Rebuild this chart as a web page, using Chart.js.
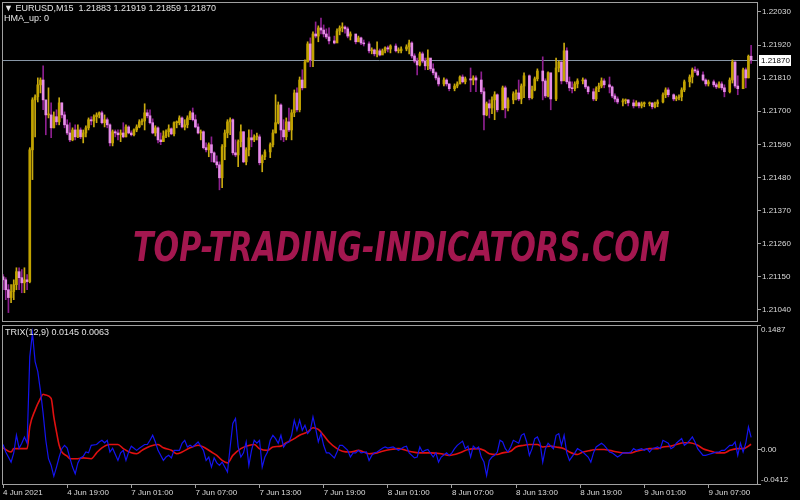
<!DOCTYPE html>
<html lang="en">
<head>
<meta charset="UTF-8">
<title>EURUSD,M15 TRIX</title>
<script src="https://cdn.jsdelivr.net/npm/chart.js"></script>
<style>
  body { margin: 0; background: #000; width: 800px; height: 500px; overflow: hidden; position: relative;
         font-family: "Liberation Sans", Arial, sans-serif; }
  canvas { position: absolute; left: 0; }
  #main { top: 0; }
  #trix { top: 323px; }
  .lbl { position: absolute; color: #e4e4e4; font-size: 9px; line-height: 10px; white-space: pre; z-index: 2; }
  #mark { position: absolute; left: 133px; top: 227px; font-family: "DejaVu Sans", sans-serif; font-weight: bold;
          font-style: italic; font-size: 41px; line-height: 41px; color: #a3174f; white-space: nowrap;
          transform-origin: 0 0; z-index: 2; }
</style>
</head>
<body>
<canvas id="main" width="800" height="322"></canvas>
<canvas id="trix" width="800" height="177"></canvas>
<div class="lbl" id="head1" style="left:4px; top:3px;"></div>
<div class="lbl" style="left:4px; top:13px;">HMA_up: 0</div>
<div class="lbl" id="head2" style="left:5px; top:327px;"></div>
<div id="mark">TOP-TRADING-INDICATORS.COM</div>

<script>
// prices are kept in points (0.00001) above 1.21000
const BASE = 1.21;
const firstOpen = 150;

const priceTicks = [1.21040, 1.21150, 1.21260, 1.21370, 1.21480, 1.21590, 1.21700, 1.21810, 1.21920, 1.22030];
const timeTicks = [0, 24, 48, 72, 96, 120, 144, 168, 192, 216, 240, 264];
const timeLabels = ['4 Jun 2021', '4 Jun 19:00', '7 Jun 01:00', '7 Jun 07:00', '7 Jun 13:00', '7 Jun 19:00',
                    '8 Jun 01:00', '8 Jun 07:00', '8 Jun 13:00', '8 Jun 19:00', '9 Jun 01:00', '9 Jun 07:00'];
const trixTicks = [0.1487, 0, -0.0412];
const trixTickLabels = ['0.1487', '0.00', '-0.0412'];

// bar number (M15 bars from 4 Jun 13:00)
const barTime = [
  0,1,2,3,4,5,6,7,8,9, 10,11,12,13,14,15,16,17,18,19, 20,21,22,23,24,25,26,27,28,29,
  30,31,32,33,34,35,36,37,38,39, 40,41,42,43,44,45,46,47,48,49, 50,51,52,53,54,55,56,57,58,59,
  60,61,62,63,64,65,66,67,68,69, 70,71,72,73,74,75,76,77,78,79, 80,81,82,83,84,85,86,87,88,89,
  90,91,92,93,94,95,
  96,97,98,100,101,102,103,104,105,106, 107,108,109,110,111,112,113,114,115,116,
  117,118,119,120,121,122,124,125,126,127, 128,129,130,132,133,134,135,137,138,139,
  140,141,142,143,144,145,147,148,149,151, 152,153,154,155,156,157,158,159,160,161,
  162,163,165,166,167,169,170,171,172,173, 175,176,177,179,180,181,182,183,184,185,
  187,188,189,191,192,193,194,195,197,198, 199,200,202,203,204,205,207,208,209,210,
  211,212,213,214,215,217,218,219,221,222, 223,224,225,227,228,229,230,232,233,234,
  236,237,238,239,240,242,243,244,245,247, 248,249,251,252,253,254,255,257,258,259,
  260,262,263,264,266,267,268,269,270,272, 273,274,275,277,278,279,280
];
const close = [
  140,107,81,101,124,167,147,130,140,134, 572,738,748,788,804,738,688,688,645,682,
  665,728,688,655,628,605,638,615,638,615, 628,645,672,668,682,688,695,662,672,655,
  595,632,628,622,628,615,648,628,622,638, 648,665,668,695,685,662,628,645,605,599,
  618,632,642,625,662,662,678,648,655,678, 695,672,648,628,632,579,572,589,562,532,
  522,479,582,628,665,672,562,555,599,632, 532,572,612,605,615,615,
  529,549,565,589,628,662,721,638,615,665, 638,695,761,705,804,778,864,924,871,957,
  950,977,970,957,947,934,927,967,977,980, 974,950,957,931,944,927,924,901,904,891,
  901,887,901,911,907,917,901,901,907,914, 927,884,867,854,891,867,851,877,841,828,
  811,791,804,791,775,784,791,814,798,808, 804,811,804,765,688,725,711,738,755,705,
  778,711,738,758,761,741,784,818,745,771, 808,834,801,751,828,741,844,864,801,901,
  798,778,775,791,801,804,781,765,741,775, 784,801,788,781,751,741,731,735,738,728,
  718,728,718,725,725,728,715,725,731,755, 771,755,741,745,748,771,798,814,838,834,
  821,804,791,798,788,781,791,778,765,804, 864,784,775,838,811,883,870
];
const high = [
  157,147,124,124,140,180,180,174,180,157, 579,745,755,811,811,851,731,778,728,698,
  705,745,728,698,672,662,645,655,655,645, 638,652,678,682,688,695,698,701,688,678,
  658,638,638,638,638,662,655,652,635,642, 655,672,675,725,705,705,675,652,648,628,
  635,638,655,645,665,668,685,682,672,685, 701,711,688,658,638,635,595,595,615,565,
  552,532,589,638,672,678,675,605,605,655, 632,579,638,638,622,628,
  622,555,572,595,638,755,731,725,672,678, 711,705,771,778,814,838,871,931,944,964,
  997,984,1010,987,974,977,950,974,984,994, 984,980,964,950,950,947,937,931,911,907,
  931,907,907,914,917,921,924,911,914,921, 937,931,891,877,897,897,877,904,871,858,
  831,818,811,808,791,791,798,818,821,814, 844,818,818,831,778,731,738,748,765,758,
  784,784,745,765,771,804,791,828,821,784, 814,841,881,808,831,821,877,867,864,927,
  911,814,798,798,808,811,808,784,775,781, 794,811,808,814,784,758,748,741,741,738,
  738,735,731,731,731,731,728,731,738,761, 778,778,758,751,755,778,804,821,844,848,
  841,831,808,804,804,794,798,798,788,811, 871,864,818,844,844,887,919
];
const low = [
  107,74,31,64,74,107,107,97,97,107, 130,473,615,731,761,705,622,678,612,645,
  655,655,678,645,622,599,602,605,612,609, 595,615,638,655,648,662,678,658,648,645,
  585,585,615,605,599,612,615,625,618,618, 632,645,655,638,678,658,625,618,595,589,
  602,612,615,622,618,645,655,645,638,645, 672,668,645,625,605,575,565,549,532,529,
  512,439,446,539,612,622,555,549,516,582, 529,522,552,582,599,605,
  522,499,539,546,582,628,658,605,599,605, 632,605,682,698,698,771,788,864,848,848,
  944,931,957,947,941,924,924,941,954,964, 960,944,937,924,931,921,917,894,891,884,
  881,884,891,894,897,894,897,894,894,901, 891,877,861,821,851,861,838,838,834,821,
  804,784,784,784,768,768,778,791,794,791, 765,788,765,758,638,685,678,692,672,698,
  735,678,701,725,738,735,725,745,738,741, 768,801,738,745,748,705,735,831,791,808,
  791,768,761,768,778,791,775,758,735,735, 765,778,778,761,745,731,725,718,725,718,
  711,718,711,711,715,718,708,711,715,728, 745,748,735,735,738,735,765,781,794,828,
  818,801,784,784,781,775,778,771,748,761, 794,778,755,775,778,811,859
];

// TRIX(12) line and its signal(9)
const trixTime = [
  0,1,3,4,5,6,7,8,9,10, 11,12,13,14,15,16,17,18,19,20, 21,22,23,24,25,26,27,28,29,30,
  31,32,33,35,36,37,38,39,40,41, 43,44,45,46,47,48,49,50,51,53, 54,55,56,57,58,60,61,62,63,64,
  66,67,68,69,70,71,73,75,76,77, 78,79,80,81,82,83,84,85,86,87, 88,89,90,91,92,93,94,95,96,97,
  98,99,100,101,102,103,104,105,106,107, 108,109,110,111,112,113,114,115,116,117,
  118,119,120,121,122,123,124,125,126,127, 129,130,131,132,133,134,136,137,138,139,
  140,142,143,144,146,148,149,150,151,152, 154,155,156,157,158,159,161,162,163,164,
  166,167,168,169,170,172,173,174,175,176, 177,178,179,180,181,182,183,184,185,186,
  187,188,189,190,191,193,194,195,196,197, 198,199,200,201,202,203,204,206,207,208,
  209,210,211,212,214,215,216,217,219,220, 221,222,224,225,226,227,228,230,231,232,
  234,235,236,237,239,240,241,242,243,245, 246,247,249,250,251,252,254,255,256,257,
  258,259,260,262,263,264,266,267,268,269, 270,272,273,274,275,276,277,278,279,280
];
const trix = [
  0.006,-0.003,-0.015,-0.004,0.017,0.0016,0.0075,0.015,0.0075,0.111,
  0.139,0.105,0.093,0.070,0.043,0.011,-0.011,-0.019,-0.032,-0.021,
  -0.009,0.001,0.005,0.0016,-0.010,-0.021,-0.029,-0.016,-0.010,-0.008,
  -0.003,-0.004,0.005,0.006,0.009,0.011,0.008,0.011,-0.003,0.0016,
  -0.013,-0.004,-0.001,-0.013,-0.003,0.004,0.0016,-0.001,0.0016,0.006,
  0.006,0.011,0.017,0.009,-0.001,-0.013,-0.009,-0.007,-0.010,-0.001,
  -0.001,0.0075,0.011,0.003,0.005,0.003,0.009,-0.001,-0.013,-0.009,
  -0.021,-0.010,-0.016,-0.019,-0.015,-0.021,-0.027,0.003,0.031,0.037,
  0.003,-0.009,-0.004,0.009,-0.019,-0.001,0.011,0.0075,0.011,-0.021,
  -0.009,-0.003,0.011,0.017,0.013,0.0075,0.017,0.003,0.0075,0.009,
  0.017,0.035,0.023,0.035,0.023,0.029,0.019,0.023,0.039,0.025,
  0.009,0.019,0.005,-0.004,-0.004,-0.007,-0.010,-0.003,0.005,0.005,
  -0.001,-0.009,-0.004,-0.004,-0.001,-0.004,-0.003,-0.013,-0.007,-0.004,
  -0.003,0.0016,0.003,0.0016,0.003,-0.001,0.001,0.003,0.004,-0.004,
  -0.010,-0.009,0.003,-0.003,-0.001,0,-0.009,-0.004,-0.015,-0.009,
  -0.004,-0.007,-0.004,0.001,0.005,0.010,0.001,0.004,-0.009,0.004,
  0.001,0.003,-0.009,-0.015,-0.031,-0.013,-0.009,-0.007,-0.003,0.011,
  0.009,0.001,-0.003,0.003,0.011,0.0075,0.017,0.019,0.009,-0.007,
  0.001,0.013,0.015,0.0075,-0.015,0.001,0.0075,0.001,0.017,0.019,
  0.005,0.017,-0.004,-0.013,-0.004,0.001,-0.001,-0.003,-0.009,-0.015,
  -0.004,0.003,0.0075,0.005,0.001,-0.003,-0.004,-0.009,-0.007,-0.004,
  -0.004,-0.003,0.001,-0.001,0.001,-0.001,0.001,-0.003,0.001,0.003,
  0.001,0.011,0.0075,0.001,0.003,0.0075,0.013,0.005,0.0075,0.011,
  0.015,0.009,0.001,-0.007,-0.007,-0.006,-0.004,-0.003,-0.003,-0.001,
  -0.001,0.005,0.005,0.009,-0.007,0.0075,-0.003,0.0075,0.027,0.0145
];
const signalTime = [
  0,3,4,6,9,10,12,14,15,16, 18,19,20,21,22,24,25,28,30,33, 35,37,40,43,45,48,50,52,55,58,
  60,63,65,67,70,73,75,78,80,82, 84,86,89,91,94,96,99,101,104,106, 109,111,114,116,118,120,122,125,127,130,
  133,135,137,140,142,145,148,152,156,160, 164,167,171,174,178,180,182,185,187,190,
  192,195,197,200,202,205,207,210,212,215, 217,220,222,225,227,230,232,235,237,240,
  242,245,247,250,252,255,257,260,262,265, 267,270,272,275,277,280
];
const signal = [
  0.002,-0.003,0.001,0.001,0.001,0.027,0.047,0.061,0.066,0.065,
  0.061,0.039,0.021,0.005,-0.003,-0.008,-0.011,-0.011,-0.010,-0.011,
  -0.004,0.002,0.006,0.006,0.001,-0.004,-0.005,-0.001,0.004,0.006,
  0.002,-0.001,-0.005,-0.003,0.002,0.005,0.003,-0.003,-0.007,-0.013,
  -0.016,-0.007,0.001,0.004,0.006,0.001,-0.001,0.003,0.004,0.008,
  0.013,0.017,0.021,0.026,0.024,0.017,0.009,0.001,-0.002,-0.003,
  -0.001,-0.003,-0.005,-0.004,-0.002,0,0.001,-0.002,-0.004,-0.004,
  -0.005,-0.007,-0.004,0,0.001,-0.001,-0.005,-0.006,-0.004,-0.002,
  0.003,0.005,0.006,0.006,0.003,0.004,0.003,0.001,-0.003,-0.006,
  -0.003,-0.001,0,0,-0.001,-0.003,-0.004,-0.004,-0.002,0,
  0.001,0.001,0.003,0.004,0.006,0.008,0.008,0.005,0.001,-0.002,
  -0.004,-0.004,-0.001,0.001,0.001,0.0063
];

const BULL_BODY = '#c2a300', BULL_WICK = '#c9aa10';
const BEAR_BODY = '#e68ce8', BEAR_WICK = '#8e2090';
const AXIS = '#a0a0a0', TEXT = '#dcdcdc', BID = '#8796a6';
const FONT = 'Liberation Sans, Arial, sans-serif';
const X_MIN = -0.4, X_MAX = 282.2;

const price = v => +(BASE + v / 100000).toFixed(5);
const open = close.map((c, i) => i ? close[i - 1] : firstOpen);
const isBull = i => close[i] >= open[i];
const last = close.length - 1;

Chart.defaults.font.family = FONT;
Chart.defaults.animation = false;
Chart.defaults.plugins.legend.display = false;
Chart.defaults.plugins.tooltip.enabled = false;

// no extra room for half labels at the axis ends
const noEdgePad = s => {
  s.paddingTop = 0; s.paddingBottom = 0; s.paddingLeft = 0; s.paddingRight = 0;
};

const frame = {
  id: 'frame',
  afterDraw(chart) {
    const {ctx, chartArea: a} = chart;
    ctx.save();
    ctx.strokeStyle = AXIS;
    ctx.lineWidth = 1;
    ctx.strokeRect(Math.round(a.left) + 0.5, Math.round(a.top) + 0.5,
                   Math.round(a.right - a.left), Math.round(a.bottom - a.top));
    ctx.restore();
  }
};

const bidLine = {
  id: 'bidLine',
  beforeDatasetsDraw(chart) {
    const {ctx, chartArea: a, scales: {y}} = chart;
    const py = Math.round(y.getPixelForValue(price(close[last]))) + 0.5;
    ctx.save();
    ctx.strokeStyle = BID;
    ctx.beginPath(); ctx.moveTo(a.left, py); ctx.lineTo(a.right, py); ctx.stroke();
    ctx.restore();
  },
  afterDraw(chart) {
    const {ctx, chartArea: a, scales: {y}} = chart;
    const py = Math.round(y.getPixelForValue(price(close[last])));
    ctx.save();
    ctx.fillStyle = '#fff';
    ctx.fillRect(a.right + 2, py - 5, 32, 11);
    ctx.fillStyle = '#000';
    ctx.font = '8px ' + FONT;
    ctx.textBaseline = 'middle';
    ctx.fillText(price(close[last]).toFixed(5), a.right + 4, py + 0.5);
    ctx.restore();
  }
};

new Chart(document.getElementById('main'), {
  type: 'bar',
  data: {
    datasets: [
      { // wicks
        data: barTime.map((t, i) => ({x: t, y: [price(low[i]), price(high[i])]})),
        backgroundColor: c => isBull(c.dataIndex) ? BULL_WICK : BEAR_WICK,
        barThickness: 1, grouped: false, borderWidth: 0, order: 2
      },
      { // bodies
        data: barTime.map((t, i) => ({x: t, y: [price(open[i]), price(close[i])]})),
        backgroundColor: c => isBull(c.dataIndex) ? BULL_BODY : BEAR_BODY,
        barThickness: 2, minBarLength: 1, grouped: false, borderWidth: 0, order: 1
      }
    ]
  },
  options: {
    responsive: false,
    events: [],
    layout: { padding: {left: 2, top: 2, right: 0, bottom: 1} },
    scales: {
      x: { type: 'linear', min: X_MIN, max: X_MAX, offset: false, display: false },
      y: {
        position: 'right', min: 1.210031, max: 1.220632,
        afterFit: s => { s.width = 43; noEdgePad(s); },
        afterBuildTicks: s => { s.ticks = priceTicks.map(v => ({value: v})); },
        ticks: { color: TEXT, font: {size: 8}, padding: 1, callback: v => v.toFixed(5) },
        grid: { drawOnChartArea: false, color: AXIS, tickLength: 4 },
        border: { display: false }
      }
    }
  },
  plugins: [frame, bidLine]
});

const trixLabels = {
  id: 'trixLabels',
  afterDraw(chart) {
    const {ctx, chartArea: a, scales: {y}} = chart;
    ctx.save();
    ctx.fillStyle = TEXT;
    ctx.font = '8px ' + FONT;
    ctx.textBaseline = 'middle';
    trixTicks.forEach((v, i) => {
      const py = Math.min(Math.max(y.getPixelForValue(v), a.top + 5), a.bottom - 4.5);
      ctx.fillText(trixTickLabels[i], a.right + 4, py);
    });
    ctx.restore();
  }
};

new Chart(document.getElementById('trix'), {
  type: 'line',
  data: {
    datasets: [
      {
        data: trixTime.map((t, i) => ({x: t, y: trix[i]})),
        borderColor: '#1414f0', borderWidth: 1.2, pointRadius: 0, tension: 0
      },
      {
        data: signalTime.map((t, i) => ({x: t, y: signal[i]})),
        borderColor: '#e01010', borderWidth: 1.6, pointRadius: 0, cubicInterpolationMode: 'monotone'
      }
    ]
  },
  options: {
    responsive: false,
    events: [],
    layout: { padding: {left: 2, top: 2, right: 0, bottom: 0} },
    scales: {
      x: {
        type: 'linear', min: X_MIN, max: X_MAX, offset: false,
        afterFit: s => { s.height = 16; noEdgePad(s); },
        afterBuildTicks: s => { s.ticks = timeTicks.map(v => ({value: v})); },
        ticks: { autoSkip: false, maxRotation: 0, align: 'start', padding: 0, color: TEXT, font: {size: 8},
                 callback: v => timeLabels[timeTicks.indexOf(v)] },
        grid: { drawOnChartArea: false, color: AXIS, tickLength: 4 },
        border: { display: false }
      },
      y: {
        position: 'right', min: -0.0412, max: 0.1487,
        afterFit: s => { s.width = 43; noEdgePad(s); },
        afterBuildTicks: s => { s.ticks = trixTicks.map(v => ({value: v})); },
        ticks: { display: false },
        grid: { drawOnChartArea: false, color: AXIS, tickLength: 4 },
        border: { display: false }
      }
    }
  },
  plugins: [frame, trixLabels]
});

document.getElementById('head1').textContent = '\u25BC EURUSD,M15  ' +
  [open[last], Math.max(...high.slice(last)), Math.min(...low.slice(last)), close[last]]
    .map(v => price(v).toFixed(5)).join(' ');
document.getElementById('head2').textContent = 'TRIX(12,9) ' +
  trix[trix.length - 1].toFixed(4) + ' ' + signal[signal.length - 1].toFixed(4);

const mark = document.getElementById('mark');
mark.style.transform = 'scaleX(' + (537 / mark.offsetWidth) + ')';
</script>
</body>
</html>
